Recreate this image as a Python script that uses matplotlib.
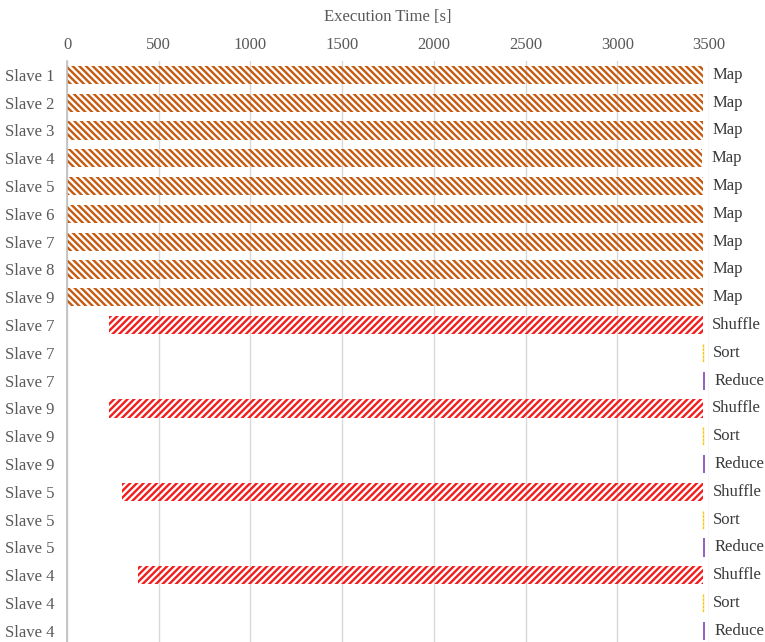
import matplotlib.pyplot as plt

plt.rcParams['font.family'] = ['Liberation Serif', 'DejaVu Serif']
plt.rcParams['hatch.linewidth'] = 1.7

# one row per task, top to bottom
rows = ['Slave 1', 'Slave 2', 'Slave 3', 'Slave 4', 'Slave 5', 'Slave 6', 'Slave 7', 'Slave 8', 'Slave 9',
        'Slave 7', 'Slave 7', 'Slave 7',
        'Slave 9', 'Slave 9', 'Slave 9',
        'Slave 5', 'Slave 5', 'Slave 5',
        'Slave 4', 'Slave 4', 'Slave 4']
phases = ['Map'] * 9 + ['Shuffle', 'Sort', 'Reduce'] * 4
starts = [0, 0, 0, 0, 0, 0, 0, 0, 0,
          229, 3466, 3469,
          229, 3466, 3469,
          300, 3466, 3469,
          385, 3466, 3469]
durations = [3468, 3468, 3468, 3462, 3468, 3468, 3468, 3468, 3468,
             3236, 3, 9,
             3236, 3, 9,
             3166, 3, 9,
             3081, 3, 9]
x_ticks = [0, 500, 1000, 1500, 2000, 2500, 3000, 3500]

styles = {
    'Map': dict(color='none', edgecolor='#C55A11', hatch='\\' * 5, linewidth=0),
    'Shuffle': dict(color='none', edgecolor='#F21D1D', hatch='/' * 5, linewidth=0),
    'Sort': dict(color='none', edgecolor='#FFC000', linestyle=':', linewidth=1.0),
    'Reduce': dict(color='#9561C9', linewidth=0),
}

fig = plt.figure(figsize=(7.65, 6.42), dpi=100)
ax = fig.add_axes([67 / 765, 0, 642 / 765, (642 - 61) / 642])

ypos = list(range(len(rows)))
for y, ph, s, d in zip(ypos, phases, starts, durations):
    ax.barh(y, d, left=s, height=0.66, **styles[ph])
    ax.annotate(ph, xy=(s + d, y), xytext=(7, 0), textcoords='offset points',
                va='center', ha='left', fontsize=12, color='#3A3A3A',
                annotation_clip=False)

ax.set_xlim(0, 3500)
ax.set_ylim(20.4, -0.5)
ax.set_yticks(ypos)
ax.set_yticklabels(rows)
ax.set_xticks(x_ticks)
ax.xaxis.tick_top()
ax.xaxis.set_label_position('top')
ax.set_xlabel('Execution Time [s]', fontsize=12, color='#595959', labelpad=11)
ax.tick_params(axis='both', length=0, labelsize=12, labelcolor='#595959')
ax.tick_params(axis='x', pad=6)
ax.tick_params(axis='y', pad=9)

ax.grid(axis='x', color='#D9D9D9', linewidth=1)
ax.set_axisbelow(True)
for side in ['top', 'right', 'bottom']:
    ax.spines[side].set_visible(False)
ax.spines['left'].set_color('#BFBFBF')
ax.spines['left'].set_linewidth(1.2)

fig.savefig('out.png', dpi=100)
